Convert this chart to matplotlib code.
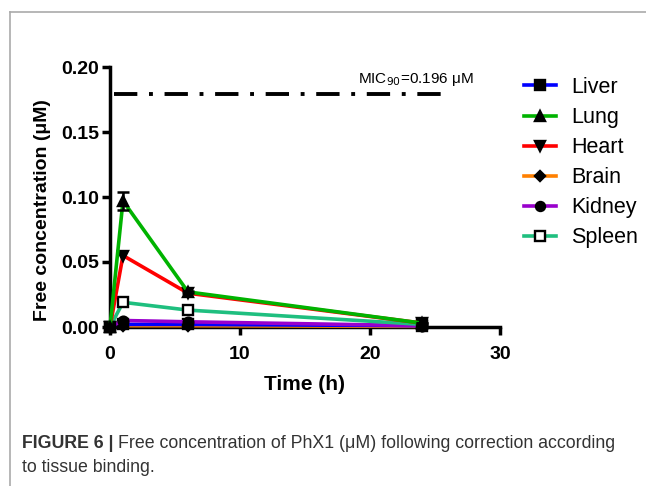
import matplotlib
matplotlib.use("Agg")
import matplotlib.pyplot as plt
from matplotlib.lines import Line2D

plt.rcParams["font.family"] = ["Liberation Sans", "DejaVu Sans"]

# --- data ---
time_h = [0, 1, 6, 24]
tissues = ["Liver", "Lung", "Heart", "Brain", "Kidney", "Spleen"]
liver = [0.0, 0.002, 0.002, 0.001]
lung = [0.0, 0.097, 0.027, 0.003]
heart = [0.0, 0.055, 0.026, 0.003]
brain = [0.0, 0.001, 0.001, 0.0005]
kidney = [0.0, 0.005, 0.004, 0.001]
spleen = [0.0, 0.019, 0.013, 0.002]
lung_err = [0.0, 0.007, 0.001, 0.0]
mic_level = 0.179
mic_label = "MIC$_{90}$=0.196 μM"
caption_bold = "FIGURE 6 |"
caption_rest = "Free concentration of PhX1 (μM) following correction according"
caption_line2 = "to tissue binding."

colors = {"Liver": "#0000ff", "Lung": "#00b300", "Heart": "#ff0000",
          "Brain": "#ff8000", "Kidney": "#9900cc", "Spleen": "#1fbf7f"}
markers = {"Liver": "s", "Lung": "^", "Heart": "v", "Brain": "D",
           "Kidney": "o", "Spleen": "s"}
series = {"Liver": liver, "Lung": lung, "Heart": heart, "Brain": brain,
          "Kidney": kidney, "Spleen": spleen}


def marker_style(name, size=7):
    face = "white" if name == "Spleen" else "black"
    ms = size * 0.75 if name == "Brain" else size
    return dict(marker=markers[name], ms=ms, mfc=face, mec="black", mew=1.7)


fig = plt.figure(figsize=(6.46, 4.86), dpi=100)
ax = fig.add_axes([110 / 646, 1 - 327 / 486, 390 / 646, 260 / 486])

# draw order: low series first, lung/heart on top
for name in ["Brain", "Liver", "Kidney", "Spleen", "Heart", "Lung"]:
    ax.plot(time_h, series[name], color=colors[name], lw=2.6,
            clip_on=False, zorder=3, **marker_style(name))
ax.errorbar(time_h, lung, yerr=lung_err, fmt="none", ecolor="black",
            elinewidth=1.8, capsize=4.5, capthick=1.8, zorder=4, clip_on=False)

ax.plot([0.3, 25.5], [mic_level, mic_level], color="black", lw=2.8,
        linestyle=(0, (6, 3, 1, 3)))
ax.text(19.1, 0.184, mic_label, fontsize=11, va="bottom", ha="left")

ax.set_xlim(0, 30)
ax.set_ylim(0, 0.20)
ax.set_xticks([0, 10, 20, 30])
ax.set_yticks([0.0, 0.05, 0.10, 0.15, 0.20])
ax.set_yticklabels(["0.00", "0.05", "0.10", "0.15", "0.20"])
for s in ["top", "right"]:
    ax.spines[s].set_visible(False)
for s in ["left", "bottom"]:
    ax.spines[s].set_linewidth(2.5)
ax.tick_params(direction="out", length=6, width=2.5, labelsize=14)
ax.tick_params(axis="x", pad=8)
ax.tick_params(axis="y", pad=2)
for lab in ax.get_xticklabels() + ax.get_yticklabels():
    lab.set_fontweight("bold")
ax.set_xlabel("Time (h)", fontsize=15, fontweight="bold", labelpad=8)
ax.set_ylabel("Free concentration (μM)", fontsize=14, fontweight="bold")
ax.yaxis.set_label_coords(-0.152, 0.45)

handles = [Line2D([], [], color=colors[n], lw=2.6, **marker_style(n, 6.5)) for n in tissues]
fig.legend(handles, tissues, loc="upper left", bbox_to_anchor=(524 / 646, 1 - 77 / 486),
           frameon=False, fontsize=15.5, handlelength=1.5, handletextpad=0.7,
           labelspacing=0.42, borderaxespad=0, borderpad=0)

# figure frame lines (left and top)
fig.add_artist(Line2D([10 / 646, 1], [1 - 12 / 486, 1 - 12 / 486], color="#aaaaaa", lw=1.2))
fig.add_artist(Line2D([10 / 646, 10 / 646], [0, 1 - 12 / 486], color="#aaaaaa", lw=1.2))

# caption: bold lead-in, then plain text placed right after it
cap_size = 12.8
t_bold = fig.text(22 / 646, 1 - 443 / 486, caption_bold, fontsize=cap_size,
                  fontweight="bold", color="#333333", va="center")
fig.canvas.draw()
bb = t_bold.get_window_extent()
fig.text(bb.x1 / fig.bbox.width + 5 / 646, 1 - 443 / 486, caption_rest,
         fontsize=cap_size, color="#333333", va="center")
fig.text(22 / 646, 1 - 468 / 486, caption_line2, fontsize=cap_size, color="#333333", va="center")

fig.savefig("out.png", dpi=100)
